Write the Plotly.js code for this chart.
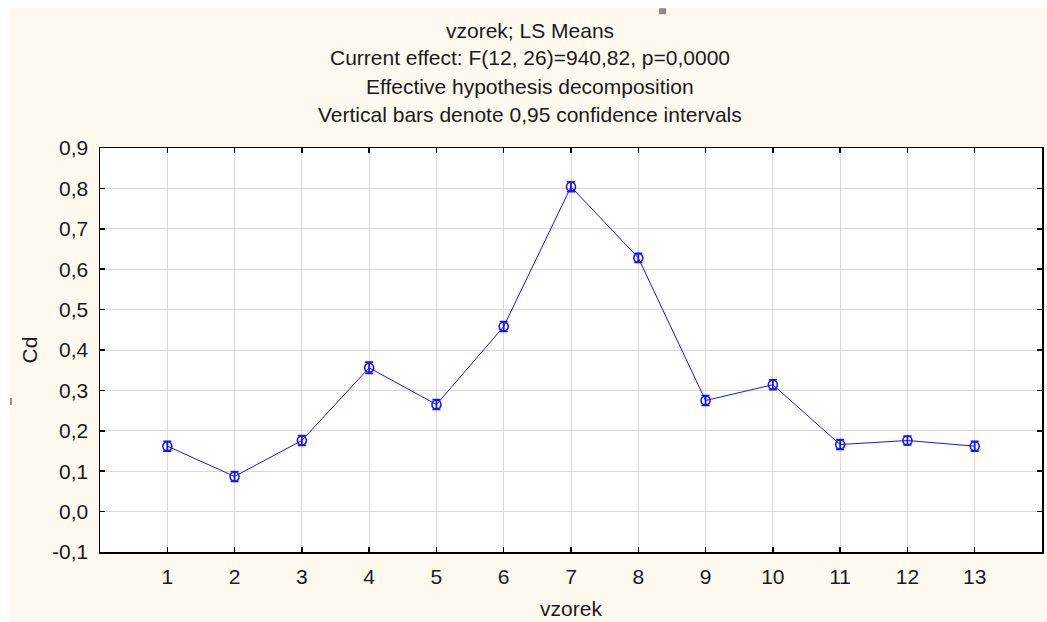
<!DOCTYPE html>
<html>
<head>
<meta charset="utf-8">
<script src="https://cdn.plot.ly/plotly-3.0.1.min.js"></script>
<style>
html,body{margin:0;padding:0;background:#ffffff;}
#chart{position:absolute;left:10px;top:8px;width:1037px;height:614px;}
</style>
</head>
<body>
<div id="chart"></div>
<script>
var categories = [1, 2, 3, 4, 5, 6, 7, 8, 9, 10, 11, 12, 13];
var meanValues = [0.162, 0.087, 0.176, 0.356, 0.265, 0.458, 0.804, 0.628, 0.275, 0.314, 0.166, 0.176, 0.162];
var ciHalfWidths = [0.012, 0.012, 0.012, 0.014, 0.012, 0.012, 0.012, 0.011, 0.012, 0.012, 0.012, 0.011, 0.012];
var xTickVals = [1, 2, 3, 4, 5, 6, 7, 8, 9, 10, 11, 12, 13];
var xTickText = ["1", "2", "3", "4", "5", "6", "7", "8", "9", "10", "11", "12", "13"];
var yTickVals = [-0.1, 0.0, 0.1, 0.2, 0.3, 0.4, 0.5, 0.6, 0.7, 0.8, 0.9];
var yTickText = ["-0,1", "0,0", "0,1", "0,2", "0,3", "0,4", "0,5", "0,6", "0,7", "0,8", "0,9"];
var titleLines = [
  "vzorek; LS Means",
  "Current effect: F(12, 26)=940,82, p=0,0000",
  "Effective hypothesis decomposition",
  "Vertical bars denote 0,95 confidence intervals"
];
var xAxisTitle = "vzorek";
var yAxisTitle = "Cd";

var blue = "rgb(20,20,255)";
var textColor = "#1a1a1a";
var fontFam = "Liberation Sans, Arial, sans-serif";
var fs = 21;

var trace = {
  x: categories,
  y: meanValues,
  type: "scatter",
  mode: "lines+markers",
  line: {color: blue, width: 1},
  marker: {symbol: "circle-open", size: 9, color: blue, line: {width: 1.6, color: blue}},
  error_y: {type: "data", array: ciHalfWidths, visible: true, color: blue, thickness: 1.8, width: 4},
  hoverinfo: "skip"
};

var titleY = [1.292, 1.223, 1.151, 1.082];
var annotations = titleLines.map(function(t, i){
  return {text: t, xref: "paper", yref: "paper", x: 0.4565, y: titleY[i],
          xanchor: "center", yanchor: "middle", showarrow: false,
          font: {family: fontFam, size: fs, color: textColor}};
});

var layout = {
  width: 1037, height: 614,
  margin: {l: 90, r: 5, t: 140, b: 70, pad: 0},
  paper_bgcolor: "#fef9ef",
  plot_bgcolor: "#ffffff",
  showlegend: false,
  font: {family: fontFam, size: fs, color: textColor},
  xaxis: {
    range: [0, 14], tickmode: "array", tickvals: xTickVals, ticktext: xTickText,
    showgrid: true, gridcolor: "#d9d9d9", gridwidth: 1, zeroline: false,
    showline: true, linecolor: "#000000", linewidth: 1.5, mirror: "ticks",
    ticks: "inside", ticklen: 5, tickcolor: "#000000", tickwidth: 1.5,
    ticklabelstandoff: 5,
    tickfont: {family: fontFam, size: fs, color: textColor},
    title: {text: xAxisTitle, standoff: 14, font: {family: fontFam, size: fs, color: textColor}}
  },
  yaxis: {
    range: [-0.1, 0.9], tickmode: "array", tickvals: yTickVals, ticktext: yTickText,
    showgrid: true, gridcolor: "#d9d9d9", gridwidth: 1, zeroline: false,
    showline: true, linecolor: "#000000", linewidth: 1.5, mirror: "ticks",
    ticks: "inside", ticklen: 5, tickcolor: "#000000", tickwidth: 1.5,
    ticklabelstandoff: 6,
    tickfont: {family: fontFam, size: fs, color: textColor},
    title: {text: yAxisTitle, standoff: 9, font: {family: fontFam, size: fs, color: textColor}}
  },
  annotations: annotations,
  shapes: [
    {type: "rect", xref: "paper", yref: "paper", x0: 0.5935, x1: 0.601, y0: 1.331, y1: 1.346,
     fillcolor: "#8a8a8a", line: {width: 0}},
    {type: "rect", xref: "paper", yref: "paper", x0: -0.0955, x1: -0.0935, y0: 0.364, y1: 0.381,
     fillcolor: "#8a8a8a", line: {width: 0}}
  ]
};

Plotly.newPlot("chart", [trace], layout, {displayModeBar: false, staticPlot: true});
</script>
</body>
</html>
